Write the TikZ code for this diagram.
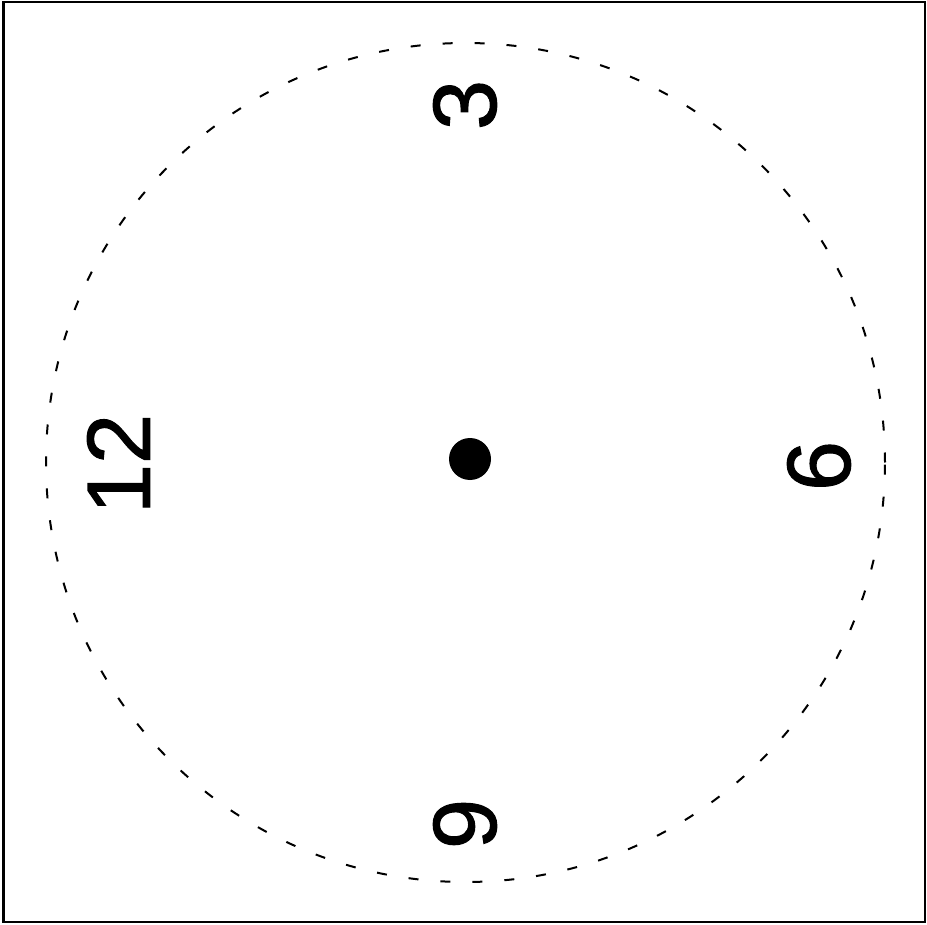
\documentclass[tikz,border=0pt]{standalone}
\usepackage{fontspec}
\setmainfont{Liberation Sans}
\newfontfamily\digitfont[FakeBold=1.2]{Liberation Sans}
\begin{document}
\begin{tikzpicture}[x=1pt,y=-1pt,
  lbl/.style={rotate=90,inner sep=0pt,font=\digitfont\fontsize{90}{90}\selectfont},
  dial/.style={dash pattern=on 10pt off 22pt,line width=2pt}]
\useasboundingbox (0,0) rectangle (927,925);
\draw[line width=2.4pt] (3.5,1.8) rectangle (925.2,922);
\draw[dial] (465.5,462.5) circle[radius=419.5pt];
\node[circle,fill,inner sep=0pt,minimum size=42pt] (hub) at (470,459) {};
\node[lbl] (twelve) at (118.5,464) {12};
\node[lbl] (three) at (465,105) {3};
\node[lbl] (six) at (819,466) {6};
\node[lbl] (nine) at (465,824) {9};
\end{tikzpicture}
\end{document}
